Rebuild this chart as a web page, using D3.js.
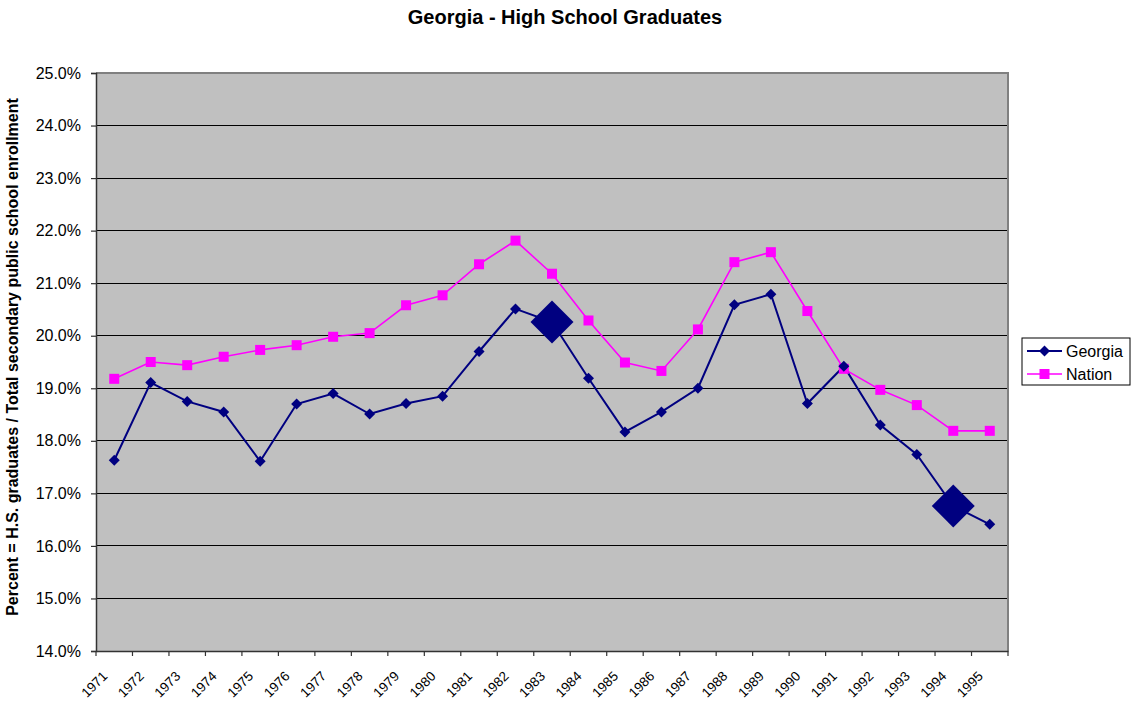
<!DOCTYPE html>
<html>
<head>
<meta charset="utf-8">
<script src="https://cdn.jsdelivr.net/npm/d3@7"></script>
<style>
  html, body { margin: 0; padding: 0; background: #fff; }
  svg { display: block; font-family: Arial, "Liberation Sans", sans-serif; }
</style>
</head>
<body>
<svg id="chart" width="1133" height="702"></svg>
<script>
const years = ["1971","1972","1973","1974","1975","1976","1977","1978","1979","1980","1981","1982","1983","1984","1985","1986","1987","1988","1989","1990","1991","1992","1993","1994","1995"];
const georgia = [17.63,19.11,18.75,18.55,17.61,18.70,18.90,18.51,18.71,18.85,19.70,20.51,20.26,19.19,18.17,18.55,19.00,20.59,20.79,18.71,19.42,18.30,17.74,16.76,16.41];
const nation = [19.18,19.50,19.44,19.60,19.73,19.82,19.98,20.05,20.58,20.77,21.36,21.81,21.18,20.29,19.49,19.33,20.12,21.40,21.59,20.47,19.37,18.97,18.68,18.19,18.19];
const yTicks = [14,15,16,17,18,19,20,21,22,23,24,25];
const highlightYears = ["1983","1994"];
const seriesNames = ["Georgia","Nation"];
const titleText = "Georgia - High School Graduates";
const yTitleText = "Percent = H.S. graduates / Total secondary public school enrollment";

const svg = d3.select("#chart");
const L = 96, R = 1008, T = 73, B = 651;
const navy = "#000080", magenta = "#FF00FF";

const x = d3.scaleBand().domain(years).range([L, R]).padding(0);
const y = d3.scaleLinear().domain([14, 25]).range([B, T]);
const cx = d => x(d) + x.bandwidth() / 2;

// plot background
svg.append("rect").attr("x", L).attr("y", T).attr("width", R - L).attr("height", B - T)
  .attr("fill", "#C0C0C0");

// gridlines
svg.append("g").selectAll("line").data(yTicks.filter(v => v > 14)).join("line")
  .attr("x1", L).attr("x2", R).attr("y1", d => y(d)).attr("y2", d => y(d))
  .attr("stroke", "#000").attr("stroke-width", 1).attr("shape-rendering", "crispEdges");

// plot border (top/right gray)
svg.append("path").attr("d", `M${L},${T}H${R}V${B}`).attr("fill", "none")
  .attr("stroke", "#808080").attr("stroke-width", 2);

// Y axis
const yAxis = d3.axisLeft(y).tickValues(yTicks).tickSize(5).tickPadding(10)
  .tickFormat(d => d.toFixed(1) + "%");
const gy = svg.append("g").attr("transform", `translate(${L},0)`).call(yAxis);
gy.select(".domain").attr("stroke", "#333").attr("stroke-width", 1.5);
gy.selectAll(".tick line").attr("stroke", "#333").attr("stroke-width", 1.2);
gy.selectAll(".tick text").attr("font-size", "16px").attr("fill", "#000")
  .attr("font-family", "Arial, 'Liberation Sans', sans-serif");

// X axis
const xAxis = d3.axisBottom(x).tickSize(0).tickFormat(d => d);
const gx = svg.append("g").attr("transform", `translate(0,${B})`).call(xAxis);
gx.select(".domain").attr("stroke", "#333").attr("stroke-width", 1.5);
gx.selectAll(".tick text")
  .attr("font-size", "13.5px").attr("fill", "#000")
  .attr("font-family", "Arial, 'Liberation Sans', sans-serif")
  .attr("text-anchor", "end").attr("dy", null).attr("y", 0)
  .attr("transform", `translate(${-6},26) rotate(-45)`);
// x tick marks at band boundaries
const bounds = years.map(d => x(d)).concat([R]);
svg.append("g").selectAll("line").data(bounds).join("line")
  .attr("x1", d => d).attr("x2", d => d).attr("y1", B).attr("y2", B + 5)
  .attr("stroke", "#333").attr("stroke-width", 1.2);

// Lines
const lineG = d3.line().x((d, i) => cx(years[i])).y(d => y(d));
svg.append("path").datum(nation).attr("d", lineG).attr("fill", "none")
  .attr("stroke", magenta).attr("stroke-width", 1.6);
svg.append("path").datum(georgia).attr("d", lineG).attr("fill", "none")
  .attr("stroke", navy).attr("stroke-width", 2);

// Nation squares
const sq = 10;
svg.append("g").selectAll("rect").data(nation).join("rect")
  .attr("x", (d, i) => cx(years[i]) - sq / 2).attr("y", d => y(d) - sq / 2)
  .attr("width", sq).attr("height", sq).attr("fill", magenta);

// Georgia diamonds
const diamond = r => `M0,${-r}L${r},0L0,${r}L${-r},0Z`;
svg.append("g").selectAll("path").data(georgia).join("path")
  .attr("transform", (d, i) => `translate(${cx(years[i])},${y(d)})`)
  .attr("d", (d, i) => diamond(highlightYears.includes(years[i]) ? 21.5 : 5.5))
  .attr("fill", navy);

// Title
svg.append("text").attr("x", 565).attr("y", 24).attr("text-anchor", "middle")
  .attr("font-size", "20px").attr("font-weight", "bold").text(titleText);

// Y title
svg.append("text").attr("transform", `translate(18,357) rotate(-90)`)
  .attr("text-anchor", "middle").attr("font-size", "16px").attr("font-weight", "bold")
  .text(yTitleText);

// Legend
const lg = svg.append("g");
lg.append("rect").attr("x", 1022).attr("y", 338).attr("width", 108).attr("height", 47)
  .attr("fill", "#fff").attr("stroke", "#000").attr("stroke-width", 1);
const items = [
  { name: seriesNames[0], color: navy, shape: "diamond", yy: 351 },
  { name: seriesNames[1], color: magenta, shape: "square", yy: 374 }
];
items.forEach(it => {
  lg.append("line").attr("x1", 1027).attr("x2", 1062).attr("y1", it.yy).attr("y2", it.yy)
    .attr("stroke", it.color).attr("stroke-width", it.shape === "diamond" ? 2 : 1.6);
  if (it.shape === "diamond") {
    lg.append("path").attr("transform", `translate(1044.5,${it.yy})`).attr("d", diamond(5.5)).attr("fill", it.color);
  } else {
    lg.append("rect").attr("x", 1044.5 - 5).attr("y", it.yy - 5).attr("width", 10).attr("height", 10).attr("fill", it.color);
  }
  lg.append("text").attr("x", 1066).attr("y", it.yy + 6).attr("font-size", "16px").text(it.name);
});
</script>
</body>
</html>
